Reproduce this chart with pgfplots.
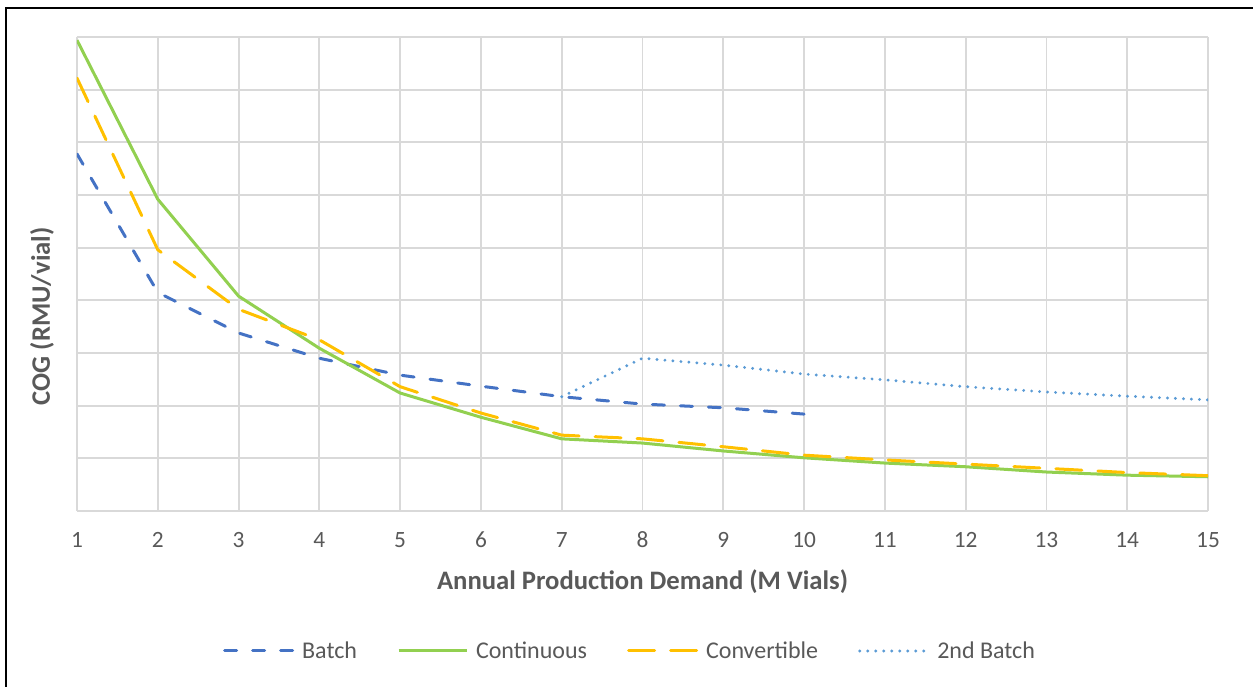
\documentclass[border=0pt]{standalone}
\usepackage{fontspec}
\setmainfont{Carlito}
\usepackage{pgfplots}
\pgfplotsset{compat=1.18}
\definecolor{gridc}{HTML}{D9D9D9}
\definecolor{txt}{HTML}{595959}
\definecolor{batch}{HTML}{4472C4}
\definecolor{cont}{HTML}{92D050}
\definecolor{conv}{HTML}{FFC000}
\definecolor{second}{HTML}{5B9BD5}
\begin{document}
\begin{tikzpicture}
\begin{axis}[
 scale only axis, width=848.25pt, height=355.5pt,
 xmin=1, xmax=15, ymin=0, ymax=9,
 xtick={1,...,15}, ytick={0,...,9}, yticklabels={},
 grid=major, major grid style={gridc, line width=1.4pt},
 axis line style={draw=none}, tick style={draw=none},
 /pgf/number format/assume math mode=true,
 xticklabel style={font=\fontsize{17.5}{20}\selectfont, text=txt, anchor=base, yshift=-27.75pt},
 xlabel={Annual Production Demand (M Vials)},
 ylabel={COG (RMU/vial)},
 label style={font=\fontsize{20}{24}\selectfont\bfseries, text=txt},
 xlabel style={at={([yshift=-59pt]rel axis cs:0.5,0)}, anchor=base},
 ylabel style={at={([xshift=-26.25pt]rel axis cs:0,0.411)}, anchor=center},
 legend style={at={([xshift=-4pt,yshift=-105pt]rel axis cs:0.494,0)}, anchor=center, draw=none,
   font=\fontsize{18}{22}\selectfont, text=txt,
   /tikz/every odd column/.append style={column sep=4pt},
   /tikz/every even column/.append style={column sep=28pt}},
 legend columns=4,
 legend image code/.code={\draw[#1] (1pt,0pt) -- (52pt,0pt);},
]
\addplot[batch, line width=2.25pt, dash pattern=on 9pt off 12pt, line cap=round, line join=round] coordinates {
(1,6.78)(2,4.15)(3,3.38)(4,2.90)(5,2.58)(6,2.37)(7,2.17)(8,2.03)(9,1.96)(10,1.84)};
\addlegendentry{Batch}
\addplot[cont, line width=2.25pt, line join=round] coordinates {
(1,8.94)(2,5.92)(3,4.08)(4,3.09)(5,2.24)(6,1.78)(7,1.37)(8,1.29)(9,1.14)(10,1.01)(11,0.91)(12,0.84)(13,0.74)(14,0.68)(15,0.65)};
\addlegendentry{Continuous}
\addplot[conv, line width=2.25pt, dash pattern=on 19.5pt off 12pt, line cap=round, line join=round] coordinates {
(1,8.22)(2,4.96)(3,3.83)(4,3.25)(5,2.36)(6,1.86)(7,1.44)(8,1.37)(9,1.22)(10,1.06)(11,0.97)(12,0.89)(13,0.81)(14,0.73)(15,0.67)};
\addlegendentry{Convertible}
\addplot[second, line width=2.4pt, dash pattern=on 0pt off 6pt, line cap=round] coordinates {
(7,2.17)(8,2.90)(9,2.77)(10,2.60)(11,2.49)(12,2.36)(13,2.26)(14,2.18)(15,2.11)};
\addlegendentry{2nd Batch}
\coordinate (O) at (rel axis cs:0,0);
\coordinate (T) at (rel axis cs:1,1);
\end{axis}
\draw[line width=1.5pt, black] ([xshift=-53.25pt,yshift=-160pt]O) |- ([xshift=60pt,yshift=21.75pt]T);
\pgfresetboundingbox
\path[use as bounding box] ([xshift=-57.75pt,yshift=-132pt]O) rectangle ([xshift=33.75pt,yshift=27.75pt]T);
\end{tikzpicture}
\end{document}
